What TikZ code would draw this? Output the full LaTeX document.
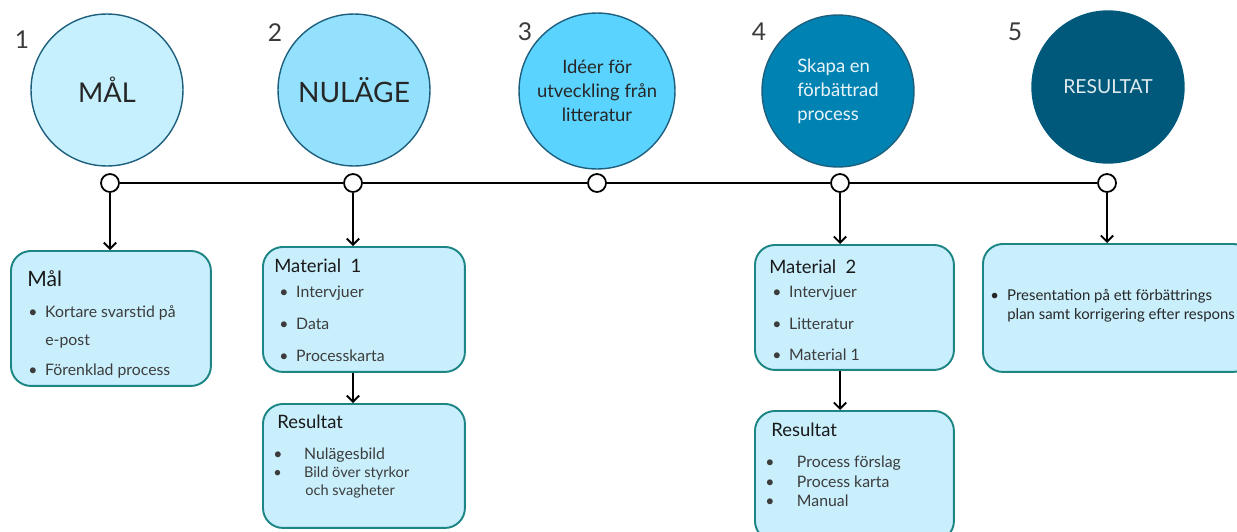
\documentclass[tikz,border=0pt]{standalone}
\usepackage{fontspec}
\setmainfont{Lato}
\usetikzlibrary{arrows.meta}

\definecolor{stageA}{HTML}{C7F0FE}
\definecolor{stageB}{HTML}{94E1FD}
\definecolor{stageC}{HTML}{5BD3FF}
\definecolor{stageD}{HTML}{0083B3}
\definecolor{stageE}{HTML}{00587A}
\definecolor{stageline}{HTML}{1D5F7D}
\definecolor{boxfill}{HTML}{C9EFFD}
\definecolor{boxline}{HTML}{1E8585}
\definecolor{numgrey}{HTML}{3A3A3A}
\definecolor{itemgrey}{HTML}{3C3C3C}

\newcommand{\bitem}[2][9.6pt]{\makebox[#1][l]{\textbullet}#2}

\begin{document}
\begin{tikzpicture}[x=0.02cm, y=-0.02cm,
    stage/.style={circle, draw=stageline, line width=0.8pt, minimum size=3.04cm, inner sep=0pt, align=center},
    stepnum/.style={font=\fontsize{14}{16}\selectfont, text=numgrey},
    dot/.style={circle, draw=black, line width=1pt, fill=white, minimum size=0.36cm, inner sep=0pt},
    infobox/.style={draw=boxline, fill=boxfill, line width=1.1pt, rounded corners=0.4cm, anchor=north west},
    boxhead/.style={anchor=west, inner sep=0pt, font=\fontsize{10.5}{12}\selectfont, text=black!90},
    boxitem/.style={anchor=west, inner sep=0pt, font=\fontsize{9}{11}\selectfont, text=itemgrey},
    down/.style={-{Straight Barb[length=3.5pt, width=7pt]}, line width=1.1pt}]
    \useasboundingbox (0,0) rectangle (1237,531);

    % Top: the five stages
    \node[stage, fill=stageA, font=\fontsize{15.5}{18}\selectfont, text=black!85] (c1) at (107,90) {MÅL};
    \node[stage, fill=stageB, font=\fontsize{16}{18}\selectfont, text=black!85] (c2) at (354,90) {NULÄGE};
    \node[stage, fill=stageC, minimum size=3.12cm, font=\fontsize{10.5}{13.6}\selectfont, text=black!85] (c3) at (597,91) {Idéer för\\utveckling från\\litteratur};
    \node[stage, fill=stageD, align=left, font=\fontsize{10.5}{13.6}\selectfont, text=white!92!stageD] (c4) at (838,91) {Skapa en\\förbättrad\\process};
    \node[stage, fill=stageE, draw=stageE, font=\fontsize{11}{13}\selectfont, text=white!88!stageE] (c5) at (1108,87) {RESULTAT};

    \node[stepnum] (n1) at (22,40) {1};
    \node[stepnum] (n2) at (275,33) {2};
    \node[stepnum] (n3) at (525,32) {3};
    \node[stepnum] (n4) at (759,32) {4};
    \node[stepnum] (n5) at (1015,32) {5};

    % Timeline
    \node[dot] (d1) at (110,183) {};
    \node[dot] (d2) at (353,183) {};
    \node[dot] (d3) at (597,183) {};
    \node[dot] (d4) at (840,183) {};
    \node[dot] (d5) at (1107,183) {};
    \draw[line width=1.3pt] (d1) -- (d2) -- (d3) -- (d4) -- (d5);

    % Boxes below
    \node[infobox, minimum width=4cm, minimum height=2.7cm] (goal) at (10,250) {};
    \node[infobox, minimum width=4.04cm, minimum height=2.5cm] (mat1) at (262,246) {};
    \node[infobox, minimum width=4.04cm, minimum height=2.48cm] (res1) at (262,403) {};
    \node[infobox, minimum width=3.98cm, minimum height=2.5cm] (mat2) at (754,244) {};
    \node[infobox, minimum width=3.98cm, minimum height=2.6cm] (res2) at (754,410) {};
    \node[infobox, minimum width=5.4cm, minimum height=2.56cm] (final) at (982,243) {};

    \draw[down] (d1) -- (d1 |- goal.north);
    \draw[down] (d2) -- (d2 |- mat1.north);
    \draw[down] (d2 |- mat1.south) -- (d2 |- res1.north);
    \draw[down] (d4) -- (d4 |- mat2.north);
    \draw[down] (d4 |- mat2.south) -- (d4 |- res2.north);
    \draw[down] (d5) -- (d5 |- final.north);

    % Box texts
    \node[boxhead, font=\fontsize{12}{14}\selectfont] (goalh) at (27,279) {Mål};
    \node[boxitem] (goal1) at (28,313) {\bitem{Kortare svarstid på}};
    \node[boxitem] (goal2) at (45,342) {e-post};
    \node[boxitem] (goal3) at (28,371) {\bitem{Förenklad process}};

    \node[boxhead] (mat1h) at (274,266) {Material\ \ 1};
    \node[boxitem] (mat1a) at (279,293) {\bitem{Intervjuer}};
    \node[boxitem] (mat1b) at (279,324) {\bitem{Data}};
    \node[boxitem] (mat1c) at (279,356) {\bitem{Processkarta}};

    \node[boxhead] (res1h) at (277,422) {Resultat};
    \node[boxitem] (res1a) at (273,455) {\bitem[17.5pt]{Nulägesbild}};
    \node[boxitem, font=\fontsize{8.3}{10}\selectfont] (res1b) at (273,473) {\bitem[17.5pt]{Bild över styrkor}};
    \node[boxitem, font=\fontsize{8.3}{10}\selectfont] (res1c) at (305,491) {och svagheter};

    \node[boxhead] (mat2h) at (769,267) {Material\ \ 2};
    \node[boxitem] (mat2a) at (772,293) {\bitem{Intervjuer}};
    \node[boxitem] (mat2b) at (772,324) {\bitem{Litteratur}};
    \node[boxitem] (mat2c) at (772,355) {\bitem{Material 1}};

    \node[boxhead] (res2h) at (771,430) {Resultat};
    \node[boxitem] (res2a) at (765,463) {\bitem[18pt]{Process förslag}};
    \node[boxitem] (res2b) at (765,482) {\bitem[18pt]{Process karta}};
    \node[boxitem] (res2c) at (765,501) {\bitem[18pt]{Manual}};

    \node[boxitem, font=\fontsize{8.5}{10}\selectfont, text=black!85] (fin1) at (990,296) {\bitem{Presentation på ett förbättrings}};
    \node[boxitem, font=\fontsize{8.5}{10}\selectfont, text=black!85] (fin2) at (1007,315) {plan samt korrigering efter respons};
\end{tikzpicture}
\end{document}
